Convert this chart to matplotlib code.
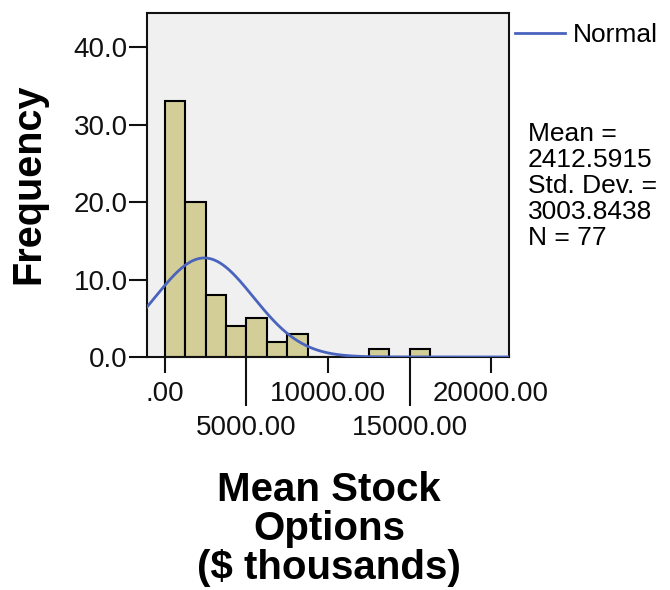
import numpy as np
import matplotlib.pyplot as plt
from matplotlib.ticker import FixedLocator, FixedFormatter

# ---------------- DATA ----------------
BIN_START = 0
BIN_WIDTH = 1250
counts = [33, 20, 8, 4, 5, 2, 3, 0, 0, 0, 1, 0, 1]

MEAN = 2412.5915
STD_DEV = 3003.8438
N = 77

major_x = [0, 10000, 20000]          # short ticks
minor_x = [5000, 15000]              # long ticks (staggered labels)
y_ticks = [0, 10, 20, 30, 40]
# --------------------------------------

BAR_COLOR = '#D3CE97'
CURVE_COLOR = '#4A64BE'
PANEL_COLOR = '#F0F0F0'

plt.rcParams['font.family'] = ['Liberation Sans', 'DejaVu Sans']

fig = plt.figure(figsize=(6.7, 5.9), dpi=100)
ax = fig.add_axes([147 / 670, 1 - 357 / 590, (509 - 147) / 670, (357 - 13) / 590])
ax.set_facecolor(PANEL_COLOR)

edges = BIN_START + BIN_WIDTH * np.arange(len(counts))
ax.bar(edges, counts, width=BIN_WIDTH, align='edge',
       color=BAR_COLOR, edgecolor='black', linewidth=1.5, zorder=2)

# normal curve scaled to the histogram
xs = np.linspace(-1100, 21100, 600)
pdf = np.exp(-0.5 * ((xs - MEAN) / STD_DEV) ** 2) / (STD_DEV * np.sqrt(2 * np.pi))
ax.plot(xs, N * BIN_WIDTH * pdf, color=CURVE_COLOR, lw=2.0, zorder=3, label='Normal')

ax.set_xlim(-1100, 21100)
ax.set_ylim(0, 44.4)

for s in ax.spines.values():
    s.set_linewidth(1.5)
    s.set_color('#111111')

ax.xaxis.set_major_locator(FixedLocator(major_x))
ax.xaxis.set_major_formatter(FixedFormatter(['.00', '10000.00', '20000.00']))
ax.xaxis.set_minor_locator(FixedLocator(minor_x))
ax.xaxis.set_minor_formatter(FixedFormatter(['5000.00', '15000.00']))
ax.tick_params(axis='x', which='major', length=11.5, width=1.5, pad=5.5,
               labelsize=20, colors='#111111')
ax.tick_params(axis='x', which='minor', length=35, width=1.5, pad=7,
               labelsize=20, colors='#111111')

ax.set_yticks(y_ticks)
ax.set_yticklabels([f'{v:.1f}' for v in y_ticks])
ax.tick_params(axis='y', length=13, width=1.5, pad=1, labelsize=20, colors='#111111')

fig.text(28 / 670, 1 - 184 / 590, 'Frequency', rotation=90, fontsize=28.5,
         fontweight='bold', ha='center', va='center')
fig.text(329 / 670, 1 - 529 / 590, 'Mean Stock\nOptions\n($ thousands)',
         fontsize=29, fontweight='bold', ha='center', va='center', linespacing=1.03)

ax.legend(loc='upper left', bbox_to_anchor=(515 / 670, 1 - 23 / 590),
          bbox_transform=fig.transFigure, frameon=False, fontsize=19,
          borderpad=0, borderaxespad=0, handlelength=1.9, handletextpad=0.3)

fig.text(528 / 670, 1 - 122 / 590,
         'Mean =\n2412.5915\nStd. Dev. =\n3003.8438\nN = 77',
         fontsize=19, ha='left', va='top', linespacing=1.1)

fig.savefig('out.png', dpi=100)
